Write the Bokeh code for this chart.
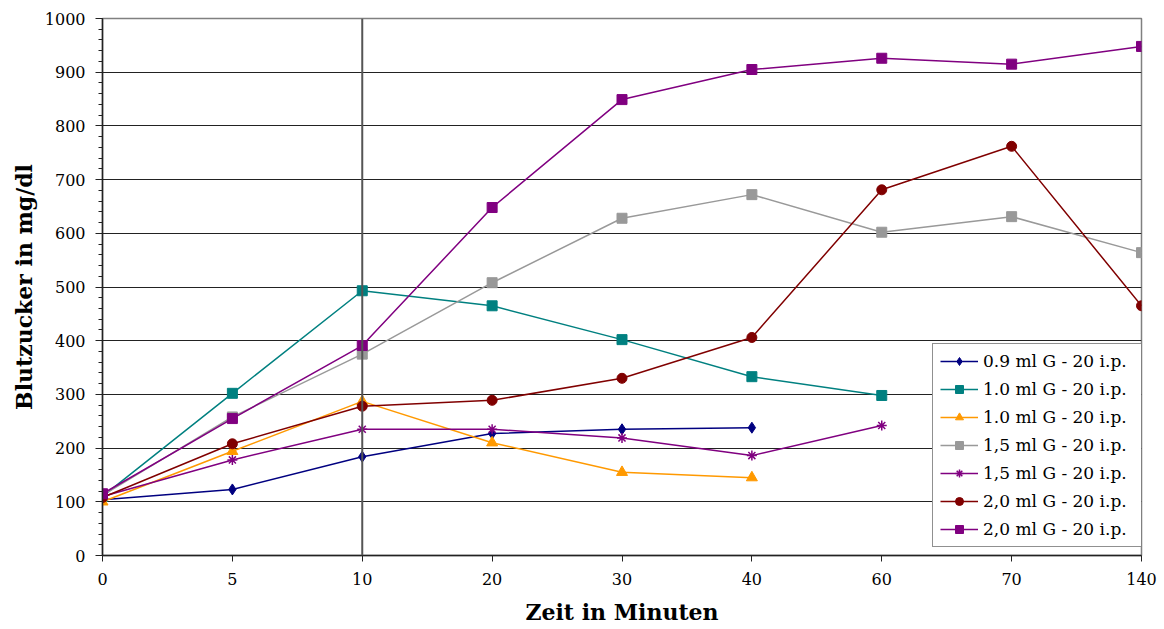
from bokeh.plotting import figure
from bokeh.models import FixedTicker, Span, Legend, LegendItem, Range1d
from bokeh.embed import file_html
from bokeh.resources import INLINE

minutes = ["0", "5", "10", "20", "30", "40", "60", "70", "140"]

labels = ["0.9 ml G - 20 i.p.", "1.0 ml G - 20 i.p.", "1.0 ml G - 20 i.p.",
          "1,5 ml G - 20 i.p.", "1,5 ml G - 20 i.p.", "2,0 ml G - 20 i.p.",
          "2,0 ml G - 20 i.p."]

s_09 = [104, 123, 184, 227, 235, 238]
s_10a = [110, 302, 493, 465, 402, 333, 298]
s_10b = [100, 194, 287, 210, 155, 145]
s_15a = [112, 258, 375, 508, 628, 672, 602, 631, 564]
s_15b = [110, 178, 235, 235, 219, 186, 242]
s_20a = [108, 208, 278, 289, 330, 406, 681, 762, 465]
s_20b = [115, 255, 391, 648, 849, 905, 926, 915, 948]

series = [s_09, s_10a, s_10b, s_15a, s_15b, s_20a, s_20b]
colors = ["#000080", "#008080", "#FF9900", "#999999", "#800080", "#800000", "#800080"]
markers = ["diamond", "square", "triangle", "square", "asterisk", "circle", "square"]
msizes = [11, 10, 11, 10, 10, 10, 10]

FONT = "DejaVu Serif"

p = figure(width=1164, height=629, output_backend="svg", toolbar_location=None,
           x_range=Range1d(0, len(minutes) - 1), y_range=Range1d(0, 1000),
           min_border_left=102, min_border_right=23, min_border_top=18, min_border_bottom=74)
p.outline_line_color = "#808080"
p.outline_line_width = 1.5
p.background_fill_color = "white"
p.border_fill_color = "white"

p.xgrid.visible = False
p.ygrid.grid_line_color = "#222222"
p.ygrid.grid_line_width = 1
p.ygrid.ticker = FixedTicker(ticks=list(range(0, 1001, 100)))

p.xaxis.ticker = FixedTicker(ticks=list(range(len(minutes))))
p.xaxis.major_label_overrides = {i: m for i, m in enumerate(minutes)}
p.xaxis.major_tick_in = 0
p.xaxis.major_tick_out = 6
p.yaxis.ticker = FixedTicker(ticks=list(range(0, 1001, 100)),
                             minor_ticks=list(range(0, 1001, 20)))
p.yaxis.major_tick_in = 0
p.yaxis.major_tick_out = 7
p.yaxis.minor_tick_in = 0
p.yaxis.minor_tick_out = 4

for ax in (p.xaxis, p.yaxis):
    ax.axis_line_color = "#222222"
    ax.axis_line_width = 1.5
    ax.major_tick_line_color = "#222222"
    ax.minor_tick_line_color = "#222222"
    ax.major_label_text_font = FONT
    ax.major_label_text_font_size = "16px"
    ax.major_label_text_color = "black"
    ax.axis_label_text_font = FONT
    ax.axis_label_text_font_style = "bold"
    ax.axis_label_text_font_size = "22px"
    ax.axis_label_text_color = "black"
p.xaxis.minor_tick_line_color = None
p.xaxis.major_label_standoff = 11
p.yaxis.major_label_standoff = 10
p.xaxis.axis_label = "Zeit in Minuten"
p.yaxis.axis_label = "Blutzucker in mg/dl"
p.xaxis.axis_label_standoff = 11
p.yaxis.axis_label_standoff = 5

p.add_layout(Span(location=minutes.index("10"), dimension="height",
                  line_color="#555555", line_width=2))

items = []
for vals, col, mk, ms, lab in zip(series, colors, markers, msizes, labels):
    xs = list(range(len(vals)))
    r1 = p.line(xs, vals, line_color=col, line_width=1.5)
    if mk == "asterisk":
        r2 = p.scatter(xs, vals, marker=mk, size=ms, line_color=col, line_width=1.5)
    else:
        r2 = p.scatter(xs, vals, marker=mk, size=ms, fill_color=col, line_color=col)
    items.append(LegendItem(label=lab, renderers=[r1, r2]))

legend = Legend(items=items, location=(830, 8))
legend.label_text_font = FONT
legend.label_text_font_size = "17px"
legend.label_text_color = "black"
legend.border_line_color = "#222222"
legend.border_line_width = 1.5
legend.background_fill_alpha = 1
legend.glyph_width = 38
legend.glyph_height = 20
legend.label_height = 20
legend.label_width = 152
legend.label_standoff = 5
legend.spacing = 8
legend.padding = 7
legend.margin = 0
p.add_layout(legend, "center")

open("out.html", "w").write(file_html(p, INLINE))
